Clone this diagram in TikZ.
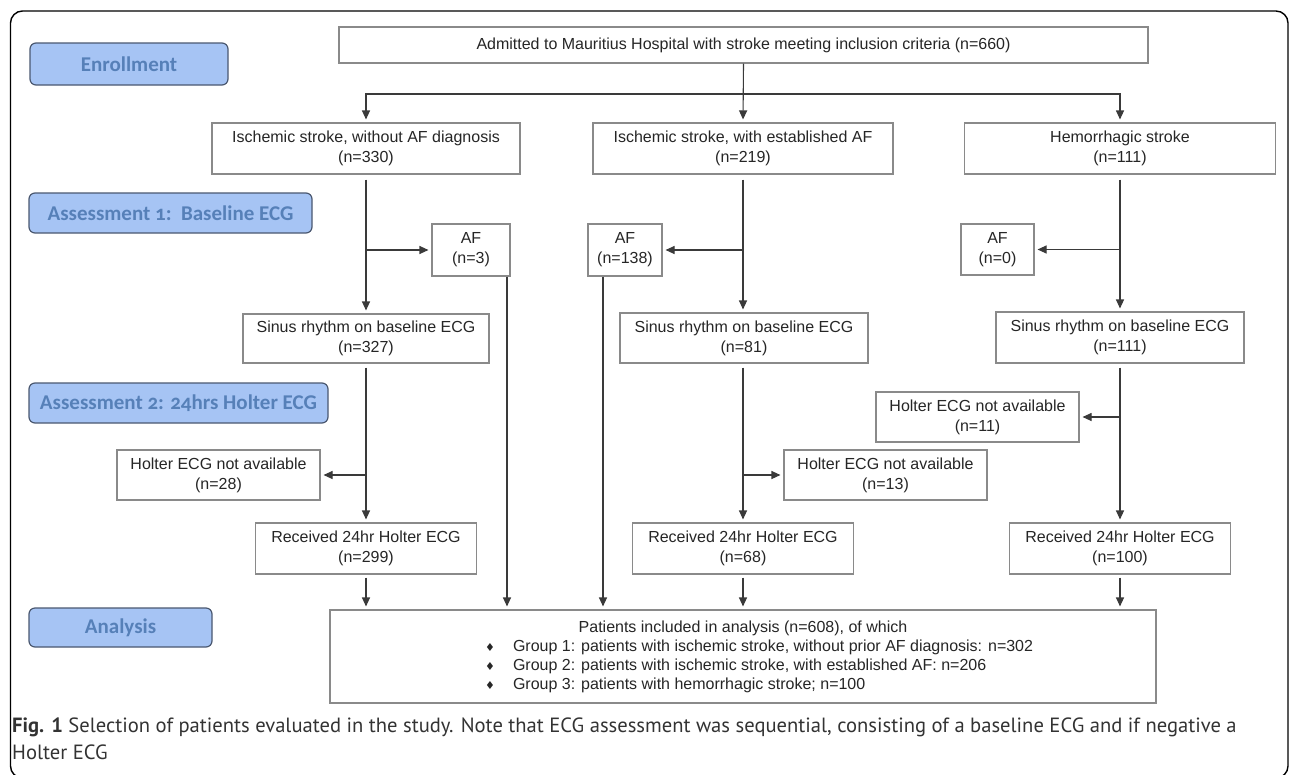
\documentclass[tikz,border=0pt]{standalone}
\usepackage{fontspec}
\setmainfont{Liberation Sans}
\newfontfamily\labfont[Numbers=OldStyle]{Carlito}
\newfontfamily\capfont{PT Sans}
\newfontfamily\symfont{DejaVu Sans}
\usetikzlibrary{arrows.meta}
\definecolor{boxgray}{HTML}{8A8A8A}
\definecolor{linegray}{HTML}{3A3A3A}
\definecolor{labfill}{HTML}{A6C4F4}
\definecolor{labborder}{HTML}{4A5870}
\definecolor{labtext}{HTML}{5680B8}
\definecolor{captext}{HTML}{333333}
\newcommand{\bul}{{\symfont\fontsize{11}{11}\selectfont ♦}}
\begin{document}
\begin{tikzpicture}[x=1pt,y=-1pt,
  box/.style={draw=boxgray, line width=1.1pt, fill=white, inner sep=0pt,
    align=center, font=\fontsize{16}{20}\selectfont, text=black!85},
  lab/.style={draw=labborder, line width=1.2pt, fill=labfill, rounded corners=6pt,
    inner sep=0pt, text=labtext, font=\labfont\bfseries\fontsize{21}{24}\selectfont},
  arr/.style={draw=linegray, line width=1.1pt, -{Triangle[length=9pt,width=8pt]}, shorten >=3pt},
  conn/.style={draw=linegray, line width=1.1pt}]
\useasboundingbox (0,0) rectangle (1290,774);
% outer frame
\draw[line width=1.4pt, rounded corners=12pt] (10.5,11) rectangle (1288,778);

% stage labels
\node[lab, minimum width=198pt, minimum height=42pt] (enr) at (129,64) {Enrollment};
\node[lab, minimum width=283pt, minimum height=40pt] (as1) at (170.5,213) {Assessment 1:\ \ Baseline ECG};
\node[lab, minimum width=299pt, minimum height=40pt] (as2) at (178.5,403) {Assessment 2: 24hrs Holter ECG};
\node[lab, minimum width=183pt, minimum height=39pt] (anl) at (120.5,627.5) {Analysis};

% flow boxes
\node[box, minimum width=809pt, minimum height=36pt] (top) at (743.5,45) {Admitted to Mauritius Hospital with stroke meeting inclusion criteria (n=660)};
\node[box, minimum width=308pt, minimum height=51pt] (b1) at (366,148.5) {Ischemic stroke, without AF diagnosis\\(n=330)};
\node[box, minimum width=300pt, minimum height=51pt] (b2) at (743,148.5) {Ischemic stroke, with established AF\\(n=219)};
\node[box, minimum width=311pt, minimum height=51pt] (b3) at (1120,148.5) {Hemorrhagic stroke\\(n=111)};

\node[box, minimum width=78pt, minimum height=52pt] (af3) at (471,250) {AF\\(n=3)};
\node[box, minimum width=74pt, minimum height=52pt] (af138) at (625,250) {AF\\(n=138)};
\node[box, minimum width=73pt, minimum height=51pt] (af0) at (997.5,249.5) {AF\\(n=0)};

\node[box, minimum width=246pt, minimum height=49pt] (s1) at (366,338.5) {Sinus rhythm on baseline ECG\\(n=327)};
\node[box, minimum width=248pt, minimum height=50pt] (s2) at (744,338) {Sinus rhythm on baseline ECG\\(n=81)};
\node[box, minimum width=248pt, minimum height=51pt] (s3) at (1120,337.5) {Sinus rhythm on baseline ECG\\(n=111)};

\node[box, minimum width=203pt, minimum height=50pt] (h28) at (218.5,475) {Holter ECG not available\\(n=28)};
\node[box, minimum width=203pt, minimum height=50pt] (h13) at (885.5,475) {Holter ECG not available\\(n=13)};
\node[box, minimum width=203pt, minimum height=50pt] (h11) at (977.5,417) {Holter ECG not available\\(n=11)};

\node[box, minimum width=221pt, minimum height=51pt] (r1) at (366,548.5) {Received 24hr Holter ECG\\(n=299)};
\node[box, minimum width=221pt, minimum height=51pt] (r2) at (743,548.5) {Received 24hr Holter ECG\\(n=68)};
\node[box, minimum width=221pt, minimum height=51pt] (r3) at (1120,548.5) {Received 24hr Holter ECG\\(n=100)};

\node[box, minimum width=826pt, minimum height=93pt, font=\fontsize{16}{19}\selectfont] (an) at (743,656.5)
 {Patients included in analysis (n=608), of which\\
  \makebox[826pt][l]{\hspace*{155pt}\makebox[28pt][l]{\bul}Group 1: patients with ischemic stroke, without prior AF diagnosis: n=302}\\
  \makebox[826pt][l]{\hspace*{155pt}\makebox[28pt][l]{\bul}Group 2: patients with ischemic stroke, with established AF: n=206}\\
  \makebox[826pt][l]{\hspace*{155pt}\makebox[28pt][l]{\bul}Group 3: patients with hemorrhagic stroke; n=100}};

% connectors: enrollment split
\coordinate (split) at (743,94);
\draw[arr] (top.south) -- (b2.north);
\draw[arr] (split) -| (b1.north);
\draw[arr] (split) -| (b3.north);

% assessment 1
\draw[arr, shorten <=5pt] (b1.south) -- (b1.south |- s1.north);
\draw[arr] (b1.south |- af3.west) -- (af3.west);
\draw[arr, shorten <=5pt] (b2.south) -- (b2.south |- s2.north);
\draw[arr] (b2.south |- af138.east) -- (af138.east);
\draw[arr, shorten <=5pt] (b3.south) -- (b3.south |- s3.north);
\draw[arr] (b3.south |- af0.east) -- (af0.east);

% assessment 2
\draw[arr, shorten <=4pt] (s1.south) -- (s1.south |- r1.north);
\draw[arr] (s1.south |- h28.east) -- (h28.east);
\draw[arr, shorten <=4pt] (s2.south -| b2.south) -- (b2.south |- r2.north);
\draw[arr] (b2.south |- h13.west) -- (h13.west);
\draw[arr, shorten <=4pt] (s3.south) -- (s3.south |- r3.north);
\draw[arr] (s3.south |- h11.east) -- (h11.east);

% to analysis
\coordinate (af3x) at (507,0);
\coordinate (af138x) at (603,0);
\draw[arr, shorten <=3pt] (r1.south) -- (r1.south |- an.north);
\draw[arr, shorten <=3pt] (r2.south) -- (r2.south |- an.north);
\draw[arr, shorten <=3pt] (r3.south) -- (r3.south |- an.north);
\draw[arr] (af3.south -| af3x) -- (an.north -| af3x);
\draw[arr] (af138.south -| af138x) -- (an.north -| af138x);

% caption
\node[anchor=north west, align=left, inner sep=0pt, text=captext,
  font=\capfont\fontsize{20.6}{27}\selectfont] (cap) at (12,718)
 {\textbf{Fig. 1} Selection of patients evaluated in the study. Note that ECG assessment was sequential, consisting of a baseline ECG and if negative a\\Holter ECG};
\end{tikzpicture}
\end{document}
